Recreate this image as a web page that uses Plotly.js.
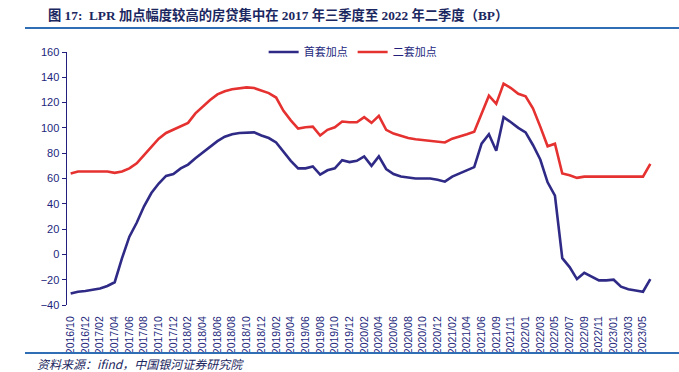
<!DOCTYPE html>
<html>
<head>
<meta charset="utf-8">
<script src="https://cdn.plot.ly/plotly-3.0.1.min.js"></script>
<style>html,body{margin:0;padding:0;background:#fff;}#chart{width:679px;height:372px;}</style>
</head>
<body>
<div id="chart"></div>
<script>
const months = [
  "2016/10","2016/11","2016/12",
  "2017/01","2017/02","2017/03","2017/04","2017/05","2017/06","2017/07","2017/08","2017/09","2017/10","2017/11","2017/12",
  "2018/01","2018/02","2018/03","2018/04","2018/05","2018/06","2018/07","2018/08","2018/09","2018/10","2018/11","2018/12",
  "2019/01","2019/02","2019/03","2019/04","2019/05","2019/06","2019/07","2019/08","2019/09","2019/10","2019/11","2019/12",
  "2020/01","2020/02","2020/03","2020/04","2020/05","2020/06","2020/07","2020/08","2020/09","2020/10","2020/11","2020/12",
  "2021/01","2021/02","2021/03","2021/04","2021/05","2021/06","2021/08","2021/09","2021/10","2021/11","2021/12",
  "2022/01","2022/02","2022/03","2022/04","2022/05","2022/06","2022/07","2022/08","2022/09","2022/10","2022/11","2022/12",
  "2023/01","2023/02","2023/03","2023/04","2023/05","2023/06"
];
const firstHome = [
  -31,-29.5,-29,-28,-27,-25,-22,-3,14,25,38,48.5,56,62,63.5,68,71,76,80.5,85,
  89.5,93,95,96,96.5,96.5,94,92,88.5,81.5,74,68,68,69.5,63,66.5,68,74.5,73,74,
  77.5,70,77.5,67.5,63.5,61.5,60.5,60,60,60,59,57.5,61.5,64,67,69,87.5,95,82,108.5,
  104.5,100,96.5,86.5,75,57,46.5,-3,-10,-19.5,-14.5,-17.5,-20.5,-20.5,-20,-25.5,-27.5,-28.5,-29.5,-19.5
];
const secondHome = [
  64,65.5,65.5,65.5,65.5,65.5,64.5,65.5,68,72,78.5,85,91.5,96,98.5,101.5,104,111.5,117,122,
  126.5,129,130.5,131.5,132,131.5,129.5,127.5,124,113.5,106,99.5,100.5,101,94,98.5,100.5,105,104.5,104.5,
  108.5,104,109.5,98.5,95.5,93.5,92,91,90.5,90,89.5,88.5,91.5,93,95,97,112,125.5,119,135,
  131.5,127,125,115.5,101,85.5,87.5,64,62.5,60.5,61.5,61.5,61.5,61.5,61.5,61.5,61.5,61.5,61.5,71.5
];
const yTicks = [-40,-20,0,20,40,60,80,100,120,140,160];

const navy = "#231f7c";
const blueLine = "#2e2a86";
const redLine = "#e5312f";

const labelVals = months.filter((m, i) => i % 2 === 0);
const minorTicks = [];
for (let k = 2.5; k < months.length; k += 3) minorTicks.push(k);

const traces = [
  {x: months, y: firstHome, type: "scatter", mode: "lines", name: "首套加点",
   line: {color: blueLine, width: 2.6}},
  {x: months, y: secondHome, type: "scatter", mode: "lines", name: "二套加点",
   line: {color: redLine, width: 2.6}}
];

const layout = {
  width: 679, height: 372,
  margin: {l: 67, r: 25, t: 52, b: 67},
  paper_bgcolor: "#ffffff", plot_bgcolor: "#ffffff",
  showlegend: true,
  legend: {
    orientation: "h", x: 0.335, xanchor: "left", y: 1.0, yanchor: "middle",
    font: {family: "'Noto Sans CJK SC', sans-serif", size: 11, color: navy},
    itemwidth: 30, bgcolor: "rgba(0,0,0,0)"
  },
  xaxis: {
    type: "category", range: [-0.5, months.length - 0.5],
    tickvals: labelVals, ticktext: labelVals, tickangle: -90,
    ticks: "outside", ticklen: 6, tickcolor: "rgba(0,0,0,0)",
    showline: false, showgrid: false, zeroline: false,
    tickfont: {family: "Liberation Sans, Arial, sans-serif", size: 10.5, color: navy}
  },
  xaxis2: {
    overlaying: "x", anchor: "free", position: 0.2,
    range: [-0.5, months.length - 0.5],
    tickvals: minorTicks, ticks: "inside", ticklen: 4, tickcolor: navy, tickwidth: 1,
    showline: true, linecolor: navy, linewidth: 1.5,
    showticklabels: false, showgrid: false, zeroline: false
  },
  yaxis: {
    range: [-40, 160], tickvals: yTicks, domain: [0, 1],
    ticks: "outside", ticklen: 4, tickcolor: navy, tickwidth: 1,
    showline: true, linecolor: navy, linewidth: 1.5,
    showgrid: false, zeroline: false,
    tickfont: {family: "Liberation Sans, Arial, sans-serif", size: 11, color: navy}
  },
  shapes: [
    {type: "line", xref: "paper", yref: "paper",
     x0: (25-67)/587, x1: (679-67)/587, y0: (372-67-28)/253, y1: (372-67-28)/253,
     line: {color: "#2f6db5", width: 2}},
    {type: "line", xref: "paper", yref: "paper",
     x0: (25-67)/587, x1: (679-67)/587, y0: (372-67-353)/253, y1: (372-67-353)/253,
     line: {color: "#2f6db5", width: 2}}
  ],
  annotations: [
    {text: "<b>图 17:  LPR 加点幅度较高的房贷集中在 2017 年三季度至 2022 年二季度（BP）</b>",
     xref: "paper", yref: "paper",
     x: (46-67)/587, xanchor: "left", y: (372-67-15)/253, yanchor: "middle",
     showarrow: false,
     font: {family: "Liberation Serif, 'Noto Sans CJK SC', serif", size: 13.3, color: "#1b2760"}},
    {text: "资料来源：ifind，中国银河证券研究院", xref: "paper", yref: "paper",
     x: (35-67)/587, xanchor: "left", y: (372-67-363)/253, yanchor: "middle",
     showarrow: false,
     font: {family: "'Noto Sans CJK SC', sans-serif", size: 12, color: "#1b2760", style: "italic"}}
  ]
};

Plotly.newPlot("chart", traces, layout, {displayModeBar: false, staticPlot: true});
</script>
</body>
</html>
